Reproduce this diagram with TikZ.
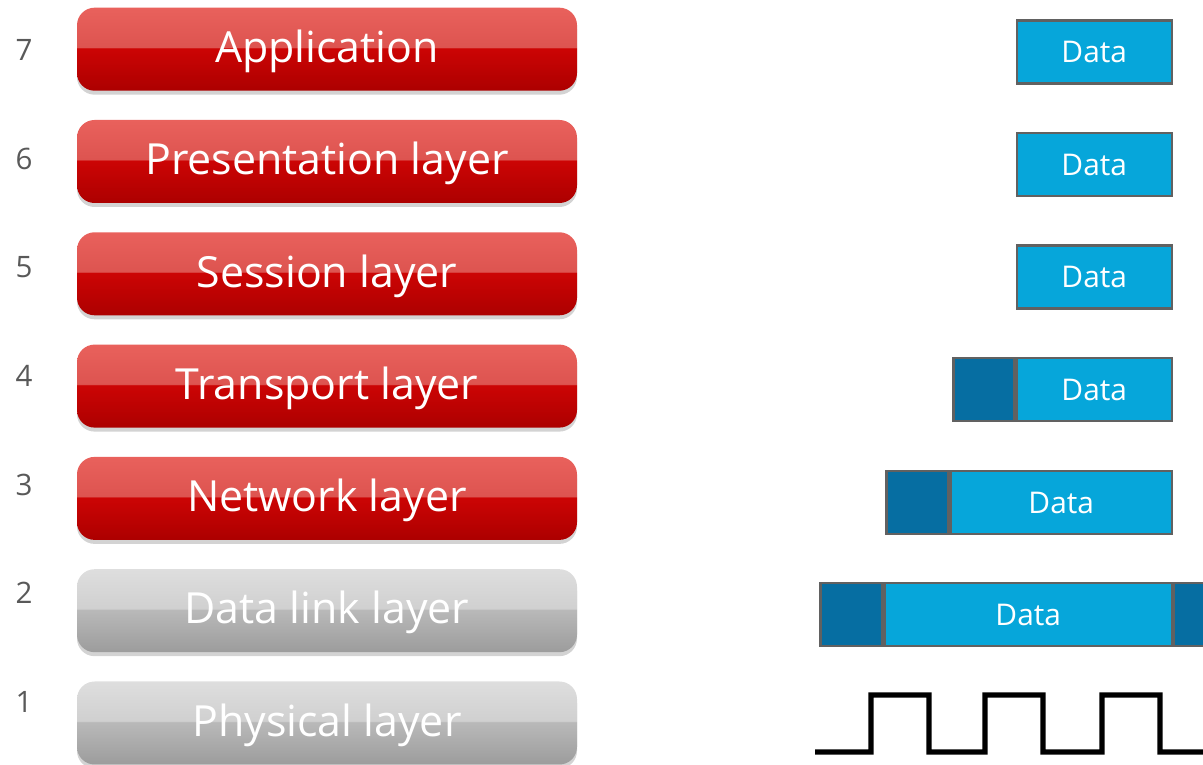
\documentclass[tikz,border=0pt]{standalone}
\usepackage{fontspec}
\setmainfont{Open Sans}
\usetikzlibrary{positioning,shadows}

\definecolor{rtop}{HTML}{E9615C}
\definecolor{rmidA}{HTML}{DD5450}
\definecolor{rmidB}{HTML}{CC0404}
\definecolor{rbot}{HTML}{AC0000}
\definecolor{gtop}{HTML}{DEDEDE}
\definecolor{gmidA}{HTML}{D0D0D0}
\definecolor{gmidB}{HTML}{B9B9B9}
\definecolor{gbot}{HTML}{9C9C9C}
\definecolor{pktlight}{HTML}{06A6DA}
\definecolor{pktdark}{HTML}{066EA2}
\definecolor{numgray}{HTML}{595959}

% glassy two-tone fills for the layer bars
\pgfdeclareverticalshading{redglass}{100bp}{color(0bp)=(rbot); color(25bp)=(rbot);
   color(50.5bp)=(rmidB); color(51.3bp)=(rmidA); color(75bp)=(rtop); color(100bp)=(rtop)}
\pgfdeclareverticalshading{grayglass}{100bp}{color(0bp)=(gbot); color(25bp)=(gbot);
   color(50.5bp)=(gmidB); color(51.3bp)=(gmidA); color(75bp)=(gtop); color(100bp)=(gtop)}

\tikzset{
   layerbar/.style={rounded corners=5pt, minimum width=5cm, minimum height=0.83cm,
      text=white, font=\fontsize{12.2}{15}\selectfont,
      text height=0.36cm, text depth=0.094cm,
      drop shadow={shadow xshift=0pt, shadow yshift=-0.04cm, opacity=0.35}},
   redbar/.style={layerbar, shading=redglass},
   graybar/.style={layerbar, shading=grayglass},
   num/.style={text=numgray, font=\fontsize{8.4}{10}\selectfont},
   pkt/.style={draw=black!62, line width=0.7pt, minimum height=0.63cm, inner sep=0pt,
      text=white, font=\fontsize{8.5}{10}\selectfont},
   data/.style={pkt, fill=pktlight},
   hdr/.style={pkt, fill=pktdark, minimum width=0.62cm},
   wave/.style={line width=1.5pt, line join=miter}
}

\begin{document}
\begin{tikzpicture}
\useasboundingbox (0,0) rectangle (12.03,7.65);

% Layer bars and their numbers
\foreach \n/\name/\sty in {7/Application/redbar, 6/Presentation layer/redbar,
   5/Session layer/redbar, 4/Transport layer/redbar, 3/Network layer/redbar,
   2/Data link layer/graybar, 1/Physical layer/graybar} {
   \pgfmathsetmacro{\yb}{0.42+1.123*(\n-1)}
   \pgfmathsetmacro{\yn}{0.63+1.087*(\n-1)}
   \node[\sty] (bar\n) at (3.27,\yb) {\name};
   \node[num] (num\n) at (0.24,\yn) {\n};
}

% Data units
\node[data, anchor=east, minimum width=1.55cm] (d7) at (11.73,7.13) {Data};
\node[data, anchor=east, minimum width=1.55cm] (d6) at (11.73,6.005) {Data};
\node[data, anchor=east, minimum width=1.55cm] (d5) at (11.73,4.88) {Data};
\node[data, anchor=east, minimum width=1.55cm] (d4) at (11.73,3.755) {Data};
\node[data, anchor=east, minimum width=2.21cm] (d3) at (11.73,2.625) {Data};
\node[data, anchor=east, minimum width=2.87cm] (d2) at (11.73,1.505) {Data};

% Headers and trailer
\node[hdr, left=0pt of d4, minimum width=0.61cm] (h4) {};
\node[hdr, left=0pt of d3] (h3) {};
\node[hdr, left=0pt of d2] (h2) {};
\node[hdr, right=0pt of d2] (t2) {};

% Bits on the wire
\draw[wave] (8.15,0.13) \foreach \x in {8.71,9.85,11.02} {
   -- (\x,0.13) -- (\x,0.70) -- ++(0.58,0) -- ++(0,-0.57) } -- (12.2,0.13);
\end{tikzpicture}
\end{document}
